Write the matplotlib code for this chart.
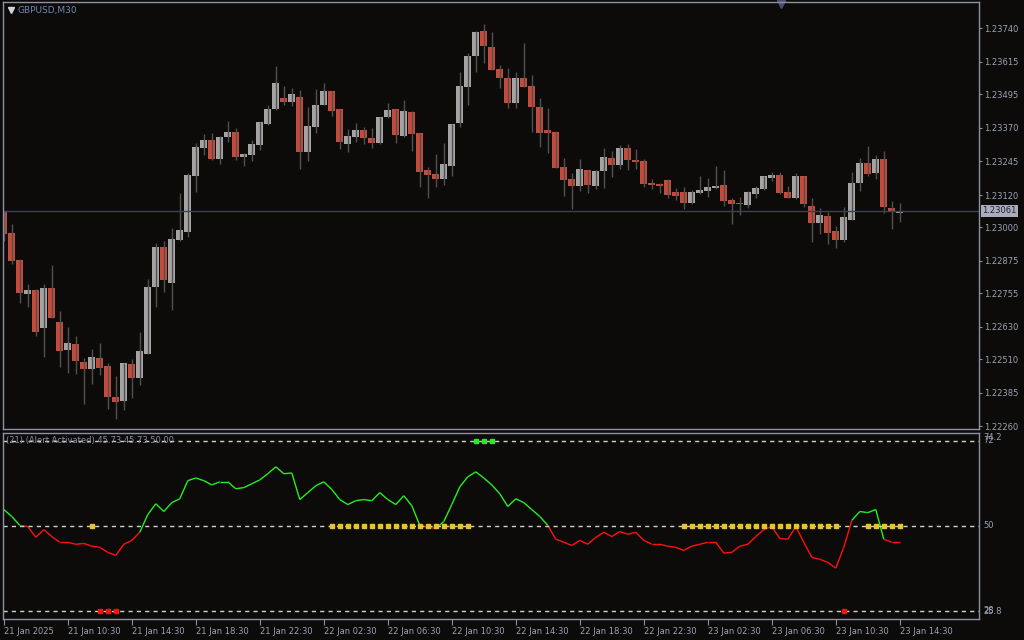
import numpy as np
import matplotlib
matplotlib.use("Agg")
import matplotlib.pyplot as plt
from matplotlib.collections import LineCollection

# GBPUSD M30 candles
opens = [1.23057, 1.22979, 1.22878, 1.22753, 1.22766, 1.22626, 1.22774, 1.22647, 1.22545, 1.22566,
         1.22499, 1.22474, 1.22514, 1.22484, 1.22368, 1.22355, 1.22491, 1.22440, 1.22530, 1.22779,
         1.22926, 1.22794, 1.22954, 1.22984, 1.23192, 1.23296, 1.23324, 1.23255, 1.23337, 1.23354,
         1.23262, 1.23270, 1.23307, 1.23385, 1.23441, 1.23481, 1.23467, 1.23484, 1.23280, 1.23373,
         1.23455, 1.23507, 1.23440, 1.23310, 1.23336, 1.23362, 1.23332, 1.23313, 1.23410, 1.23440,
         1.23339, 1.23429, 1.23350, 1.23213, 1.23198, 1.23179, 1.23228, 1.23388, 1.23522, 1.23637,
         1.23730, 1.23670, 1.23589, 1.23555, 1.23462, 1.23555, 1.23525, 1.23447, 1.23362, 1.23354,
         1.23224, 1.23179, 1.23153, 1.23213, 1.23153, 1.23209, 1.23258, 1.23232, 1.23295, 1.23250,
         1.23246, 1.23165, 1.23161, 1.23176, 1.23131, 1.23131, 1.23090, 1.23127, 1.23135, 1.23146,
         1.23157, 1.23101, 1.23090, 1.23083, 1.23124, 1.23142, 1.23183, 1.23194, 1.23131, 1.23109,
         1.23191, 1.23079, 1.23016, 1.23042, 1.22986, 1.22953, 1.23027, 1.23165, 1.23239, 1.23202,
         1.23254, 1.23072, 1.23053]
highs = [1.23060, 1.23012, 1.22883, 1.22789, 1.22771, 1.22789, 1.22859, 1.22688, 1.22629, 1.22595,
         1.22514, 1.22547, 1.22571, 1.22495, 1.22447, 1.22495, 1.22510, 1.22610, 1.22807, 1.22941,
         1.22949, 1.22997, 1.23127, 1.23202, 1.23313, 1.23347, 1.23350, 1.23339, 1.23395, 1.23369,
         1.23277, 1.23324, 1.23391, 1.23455, 1.23600, 1.23525, 1.23518, 1.23511, 1.23447, 1.23514,
         1.23537, 1.23507, 1.23440, 1.23365, 1.23388, 1.23373, 1.23369, 1.23410, 1.23462, 1.23440,
         1.23473, 1.23432, 1.23350, 1.23224, 1.23272, 1.23313, 1.23384, 1.23577, 1.23648, 1.23730,
         1.23756, 1.23726, 1.23604, 1.23592, 1.23577, 1.23685, 1.23566, 1.23481, 1.23444, 1.23358,
         1.23258, 1.23202, 1.23254, 1.23213, 1.23213, 1.23295, 1.23284, 1.23306, 1.23310, 1.23291,
         1.23254, 1.23179, 1.23165, 1.23179, 1.23146, 1.23150, 1.23139, 1.23191, 1.23183, 1.23228,
         1.23213, 1.23109, 1.23112, 1.23135, 1.23153, 1.23191, 1.23205, 1.23205, 1.23153, 1.23202,
         1.23191, 1.23109, 1.23072, 1.23057, 1.23005, 1.23075, 1.23205, 1.23258, 1.23302, 1.23269,
         1.23284, 1.23098, 1.23090]
lows = [1.22950, 1.22864, 1.22719, 1.22704, 1.22597, 1.22518, 1.22664, 1.22481, 1.22459, 1.22455,
        1.22344, 1.22418, 1.22452, 1.22325, 1.22288, 1.22321, 1.22366, 1.22414, 1.22530, 1.22704,
        1.22760, 1.22693, 1.22950, 1.22965, 1.23132, 1.23270, 1.23251, 1.23236, 1.23318, 1.23251,
        1.23229, 1.23248, 1.23289, 1.23382, 1.23437, 1.23456, 1.23452, 1.23218, 1.23248, 1.23350,
        1.23455, 1.23414, 1.23291, 1.23280, 1.23317, 1.23310, 1.23295, 1.23310, 1.23406, 1.23313,
        1.23336, 1.23284, 1.23150, 1.23109, 1.23150, 1.23157, 1.23191, 1.23373, 1.23455, 1.23577,
        1.23611, 1.23585, 1.23518, 1.23444, 1.23444, 1.23522, 1.23354, 1.23298, 1.23277, 1.23220,
        1.23116, 1.23068, 1.23135, 1.23127, 1.23142, 1.23146, 1.23187, 1.23217, 1.23213, 1.23217,
        1.23150, 1.23142, 1.23127, 1.23109, 1.23101, 1.23068, 1.23086, 1.23124, 1.23112, 1.23142,
        1.23079, 1.23012, 1.23046, 1.23072, 1.23109, 1.23139, 1.23172, 1.23124, 1.23109, 1.23105,
        1.23075, 1.22945, 1.22975, 1.22938, 1.22923, 1.22945, 1.23027, 1.23135, 1.23191, 1.23179,
        1.23053, 1.22993, 1.23019]
closes = [1.22976, 1.22876, 1.22757, 1.22766, 1.22611, 1.22774, 1.22664, 1.22541, 1.22569, 1.22504,
          1.22474, 1.22517, 1.22478, 1.22370, 1.22351, 1.22495, 1.22440, 1.22540, 1.22778, 1.22926,
          1.22805, 1.22956, 1.22990, 1.23194, 1.23298, 1.23324, 1.23255, 1.23336, 1.23354, 1.23262,
          1.23272, 1.23310, 1.23391, 1.23440, 1.23537, 1.23467, 1.23496, 1.23281, 1.23377, 1.23455,
          1.23507, 1.23434, 1.23317, 1.23339, 1.23362, 1.23332, 1.23313, 1.23410, 1.23436, 1.23343,
          1.23432, 1.23347, 1.23205, 1.23194, 1.23179, 1.23235, 1.23384, 1.23525, 1.23637, 1.23726,
          1.23674, 1.23585, 1.23555, 1.23462, 1.23555, 1.23522, 1.23447, 1.23350, 1.23350, 1.23220,
          1.23176, 1.23153, 1.23217, 1.23157, 1.23209, 1.23261, 1.23232, 1.23295, 1.23250, 1.23243,
          1.23161, 1.23157, 1.23153, 1.23120, 1.23116, 1.23090, 1.23131, 1.23139, 1.23150, 1.23153,
          1.23098, 1.23086, 1.23086, 1.23131, 1.23146, 1.23191, 1.23194, 1.23127, 1.23109, 1.23191,
          1.23086, 1.23016, 1.23046, 1.22979, 1.22953, 1.23038, 1.23165, 1.23239, 1.23198, 1.23254,
          1.23075, 1.23057, 1.23061]

# oscillator (21) values
osc = [54.2, 52.4, 50.1, 49.8, 47.0, 49.0, 47.2, 45.7, 45.7, 45.2,
       45.4, 44.7, 44.4, 43.1, 42.3, 45.2, 46.2, 48.3, 52.9, 55.7,
       53.7, 56.0, 57.0, 61.7, 62.4, 61.7, 60.6, 61.4, 61.4, 59.6,
       59.9, 60.9, 61.9, 63.5, 65.3, 63.5, 63.7, 56.8, 58.6, 60.4,
       61.4, 59.4, 56.8, 55.5, 56.5, 56.8, 56.5, 58.6, 56.8, 55.5,
       57.8, 55.2, 50.1, 49.6, 49.3, 51.1, 55.5, 60.1, 62.7, 64.0,
       62.4, 60.6, 58.3, 55.0, 57.0, 56.0, 54.2, 52.4, 50.1, 46.5,
       45.7, 44.9, 46.2, 45.2, 47.0, 48.3, 47.2, 48.5, 47.8, 48.3,
       46.2, 45.2, 45.2, 44.7, 44.4, 43.6, 44.7, 45.2, 45.7, 45.7,
       42.9, 43.1, 44.7, 45.2, 47.2, 49.0, 49.8, 46.7, 46.5, 49.8,
       45.7, 41.8, 41.3, 40.5, 39.0, 44.4, 51.4, 53.7, 53.4, 54.2,
       46.5, 45.73, 45.73]

mid_dots = [11] + list(range(41, 59)) + list(range(85, 105)) + list(range(108, 113))
top_dots = [59, 60, 61]
bottom_dots = [12, 13, 14, 105]

time_labels = ["21 Jan 2025", "21 Jan 10:30", "21 Jan 14:30", "21 Jan 18:30", "21 Jan 22:30",
               "22 Jan 02:30", "22 Jan 06:30", "22 Jan 10:30", "22 Jan 14:30", "22 Jan 18:30",
               "22 Jan 22:30", "23 Jan 02:30", "23 Jan 06:30", "23 Jan 10:30", "23 Jan 14:30"]
price_ticks = [1.22260, 1.22385, 1.22510, 1.22630, 1.22755, 1.22875, 1.23000,
               1.23120, 1.23245, 1.23370, 1.23495, 1.23615, 1.23740]
last_price = 1.23061

bg = "#0d0b09"
frame = "#8c92a4"
txt = "#9aa2b4"
bull = "#a4a4a4"
bear = "#c64b3b"
wick = "#505050"
fs = 6

fig = plt.figure(figsize=(10.24, 6.4), dpi=100, facecolor=bg)
W, H = 1024, 640
ax = fig.add_axes([3 / W, (H - 429) / H, 976 / W, 427 / H], facecolor=bg)
ax2 = fig.add_axes([3 / W, (H - 619) / H, 976 / W, 186.5 / H], facecolor=bg)

x = np.arange(len(opens))
o = np.array(opens)
c = np.array(closes)
up = c >= o
lo = np.minimum(o, c)
hgt = np.maximum(np.abs(c - o), 0.00003)

ax.vlines(x, lows, highs, color=wick, lw=1)
ax.bar(x[up], hgt[up], bottom=lo[up], width=0.86, color=bull, lw=0)
ax.bar(x[~up], hgt[~up], bottom=lo[~up], width=0.86, color=bear, lw=0)
ax.axhline(last_price, color="#3a3e6a", lw=1)

xmin, xmax = -0.1, 121.9
ax.set_xlim(xmin, xmax)
ax.set_ylim(1.22250, 1.23838)
ax.set_xticks([])
ax.yaxis.tick_right()
ax.set_yticks(price_ticks)
ax.set_yticklabels(["%.5f" % p for p in price_ticks])
ax.tick_params(axis="y", colors=frame, labelcolor=txt, labelsize=fs, length=2, pad=2)
for s in ax.spines.values():
    s.set_color(frame)
    s.set_linewidth(1)

ax.text(1.003, last_price, "%.5f" % last_price, transform=ax.get_yaxis_transform(),
        fontsize=fs, color="#1c2030", va="center", ha="left",
        bbox=dict(boxstyle="square,pad=0.15", fc="#a8acbc", ec="none"))
ax.text(15 / 976, 1 - 8 / 427, "GBPUSD,M30", transform=ax.transAxes, fontsize=6.5,
        color="#6f88b2", va="center", ha="left")
ax.plot([8 / 976], [1 - 8 / 427], marker="v", ms=4, color="#d0d4e0", transform=ax.transAxes,
        clip_on=False)
ax.plot([778 / 976], [1 - 2 / 427], marker="v", ms=6, color="#4a5072", transform=ax.transAxes,
        clip_on=False)

# indicator window
v = np.array(osc)
pts = np.column_stack([x, v])
segs = np.stack([pts[:-1], pts[1:]], axis=1)
cols = ["#22ee22" if (a + b) / 2 >= 50 else "#ff1010" for a, b in zip(v[:-1], v[1:])]
ax2.add_collection(LineCollection(segs, colors=cols, linewidths=1))
for lvl in (72, 50, 28):
    ax2.axhline(lvl, color="#d0d0d0", lw=1, ls=(0, (3, 3)))
ax2.plot(mid_dots, [50] * len(mid_dots), ls="none", marker="s", ms=2.4, color="#e6c330", zorder=3)
ax2.plot(top_dots, [72] * len(top_dots), ls="none", marker="s", ms=2.4, color="#22ee22", zorder=3)
ax2.plot(bottom_dots, [28] * len(bottom_dots), ls="none", marker="s", ms=2.4, color="#ff1010", zorder=3)

ax2.set_xlim(xmin, xmax)
ax2.set_ylim(25.8, 74.2)
ax2.set_yticks([])
ax2.set_xticks(np.arange(0, len(opens), 8))
ax2.set_xticklabels(time_labels, ha="left")
ax2.tick_params(axis="x", colors=frame, labelcolor=txt, labelsize=fs, length=4, pad=2)
for s in ax2.spines.values():
    s.set_color(frame)
    s.set_linewidth(1)
# scale labels overlap in pairs, as in the terminal
for val, yv in (("74.2", 72.9), ("72", 72), ("50", 50), ("28", 28), ("25.8", 27.8)):
    ax2.text(1.004, yv, val, transform=ax2.get_yaxis_transform(), fontsize=fs, color=txt,
             va="center", ha="left")
ax2.text(3 / 976, 72, "(21) (Alert Activated) 45.73 45.73 50.00", transform=ax2.get_yaxis_transform(),
         fontsize=fs, color="#8890a2", va="center", ha="left")

fig.savefig("out.png", dpi=100, facecolor=bg)
